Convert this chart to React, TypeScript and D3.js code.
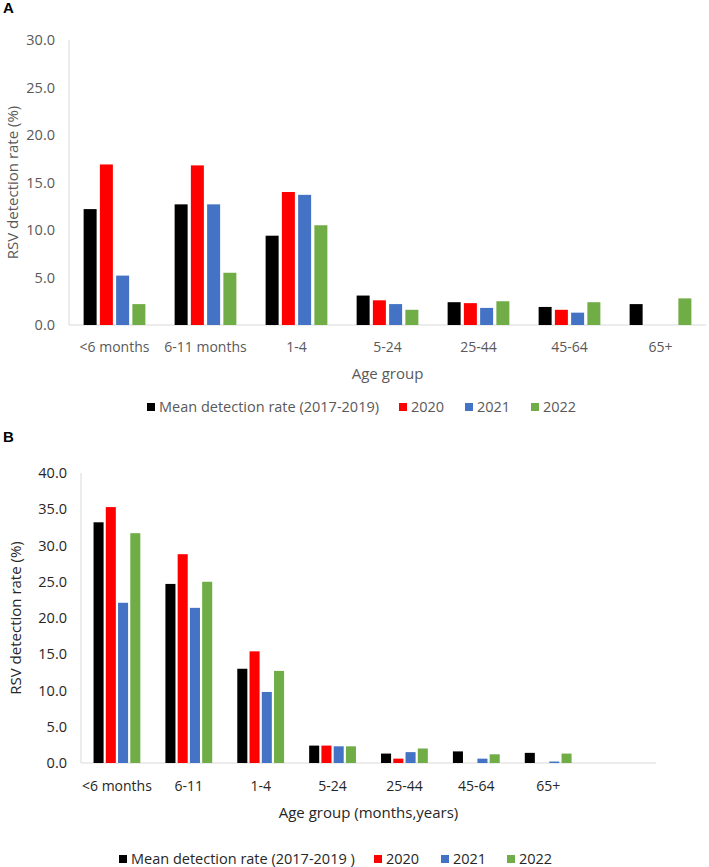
import { useEffect, useRef } from 'react';
import * as d3 from 'd3';

// Age groups and series
const seriesNames = ['Mean detection rate (2017-2019)', '2020', '2021', '2022'];
const seriesNamesB = ['Mean detection rate (2017-2019 )', '2020', '2021', '2022'];
const seriesColors = ['#000000', '#ff0000', '#4472c4', '#70ad47'];

const ageGroupsA = ['<6 months', '6-11 months', '1-4', '5-24', '25-44', '45-64', '65+'];
const ageGroupsB = ['<6 months', '6-11', '1-4', '5-24', '25-44', '45-64', '65+'];

// Panel A: detection rate (%) per age group, one array per series
const meanA = [12.2, 12.7, 9.4, 3.1, 2.4, 1.9, 2.2];
const y2020A = [16.9, 16.8, 14.0, 2.6, 2.3, 1.6, null];
const y2021A = [5.2, 12.7, 13.7, 2.2, 1.8, 1.3, null];
const y2022A = [2.2, 5.5, 10.5, 1.6, 2.5, 2.4, 2.8];

// Panel B
const meanB = [33.2, 24.7, 13.0, 2.4, 1.3, 1.6, 1.4];
const y2020B = [35.3, 28.8, 15.4, 2.4, 0.6, null, null];
const y2021B = [22.1, 21.4, 9.8, 2.3, 1.5, 0.6, 0.2];
const y2022B = [31.7, 25.0, 12.7, 2.3, 2.0, 1.2, 1.3];

const ticksA = [0, 5, 10, 15, 20, 25, 30];
const ticksB = [0, 5, 10, 15, 20, 25, 30, 35, 40];

const FONT = '"Open Sans", sans-serif';

type Panel = {
  letter: string;
  letterY: number;
  groups: string[];
  slots: number;
  values: (number | null)[][];
  names: string[];
  ticks: number[];
  left: number;
  right: number;
  top: number;
  bottom: number;
  inner: number;
  innerPad: number;
  textColor: string;
  yTitle: string;
  yTitleX: number;
  xTitle: string;
  xTitleY: number;
  labelY: number;
  tickX: number;
  legendY: number;
  legendX: number[];
};

const panels: Panel[] = [
  {
    letter: 'A', letterY: 13,
    groups: ageGroupsA, slots: ageGroupsA.length,
    values: [meanA, y2020A, y2021A, y2022A], names: seriesNames,
    ticks: ticksA, left: 69, right: 706, top: 40, bottom: 325,
    inner: 65, innerPad: 0.2, textColor: '#595959',
    yTitle: 'RSV detection rate (%)', yTitleX: 13,
    xTitle: 'Age group', xTitleY: 374, labelY: 347, tickX: 55,
    legendY: 407, legendX: [147, 399, 465, 531],
  },
  {
    letter: 'B', letterY: 442,
    groups: ageGroupsB, slots: ageGroupsB.length + 1,
    values: [meanB, y2020B, y2021B, y2022B], names: seriesNamesB,
    ticks: ticksB, left: 81, right: 656, top: 473, bottom: 763,
    inner: 49, innerPad: 0.18, textColor: '#262626',
    yTitle: 'RSV detection rate  (%)', yTitleX: 16,
    xTitle: 'Age group (months,years)', xTitleY: 813, labelY: 786, tickX: 67,
    legendY: 859, legendX: [119, 374, 441, 507],
  },
];

const App = () => {
  const svgRef = useRef<SVGSVGElement>(null);

  useEffect(() => {
    if (!svgRef.current) return;
    const svg = d3.select(svgRef.current);
    svg.selectAll('*').remove();

    panels.forEach((p) => {
      const g = svg.append('g');

      // Slot indices (panel B keeps one empty slot at the right)
      const x = d3.scaleBand<number>()
        .domain(d3.range(p.slots))
        .range([p.left, p.right])
        .padding(0);

      const xi = d3.scaleBand<number>()
        .domain(d3.range(p.names.length))
        .range([-p.inner / 2, p.inner / 2])
        .paddingInner(p.innerPad)
        .paddingOuter(p.innerPad / 2);

      const y = d3.scaleLinear()
        .domain([0, d3.max(p.ticks) as number])
        .range([p.bottom, p.top]);

      // Panel letter
      g.append('text')
        .attr('x', 3)
        .attr('y', p.letterY)
        .style('font-family', '"Liberation Sans", Arial, sans-serif')
        .style('font-weight', 'bold')
        .style('font-size', '15px')
        .text(p.letter);

      // Axis lines
      g.append('line')
        .attr('x1', p.left).attr('x2', p.left)
        .attr('y1', p.top).attr('y2', p.bottom)
        .attr('stroke', '#d9d9d9');
      g.append('line')
        .attr('x1', p.left).attr('x2', p.right)
        .attr('y1', p.bottom).attr('y2', p.bottom)
        .attr('stroke', '#d9d9d9');

      // Y tick labels
      g.selectAll('.ytick')
        .data(p.ticks)
        .enter()
        .append('text')
        .attr('x', p.tickX)
        .attr('y', d => y(d))
        .attr('dy', '0.35em')
        .attr('text-anchor', 'end')
        .style('font-family', FONT)
        .style('font-size', '14.5px')
        .style('fill', p.textColor)
        .text(d => d3.format('.1f')(d));

      // Bars
      p.values.forEach((vals, si) => {
        g.selectAll(`.bar${si}`)
          .data(vals.map((v, i) => ({ v, i })).filter(d => d.v !== null))
          .enter()
          .append('rect')
          .attr('x', d => (x(d.i) as number) + x.bandwidth() / 2 + (xi(si) as number))
          .attr('width', xi.bandwidth())
          .attr('y', d => y(d.v as number))
          .attr('height', d => p.bottom - y(d.v as number))
          .attr('fill', seriesColors[si]);
      });

      // Category labels
      g.selectAll('.xlabel')
        .data(p.groups)
        .enter()
        .append('text')
        .attr('x', (d, i) => (x(i) as number) + x.bandwidth() / 2)
        .attr('y', p.labelY)
        .attr('dy', '0.35em')
        .attr('text-anchor', 'middle')
        .style('font-family', FONT)
        .style('font-size', '14px')
        .style('fill', p.textColor)
        .text(d => d);

      // Axis titles
      g.append('text')
        .attr('x', (p.left + p.right) / 2)
        .attr('y', p.xTitleY)
        .attr('dy', '0.35em')
        .attr('text-anchor', 'middle')
        .style('font-family', FONT)
        .style('font-size', '15px')
        .style('fill', p.textColor)
        .text(p.xTitle);

      g.append('text')
        .attr('transform', `translate(${p.yTitleX}, ${(p.top + p.bottom) / 2}) rotate(-90)`)
        .attr('dy', '0.35em')
        .attr('text-anchor', 'middle')
        .style('font-family', FONT)
        .style('font-size', '15px')
        .style('fill', p.textColor)
        .text(p.yTitle);

      // Legend
      const legend = g.selectAll('.legend')
        .data(p.names)
        .enter()
        .append('g')
        .attr('transform', (d, i) => `translate(${p.legendX[i]}, ${p.legendY})`);

      legend.append('rect')
        .attr('x', 0)
        .attr('y', -4)
        .attr('width', 8)
        .attr('height', 8)
        .attr('fill', (d, i) => seriesColors[i]);

      legend.append('text')
        .attr('x', 12)
        .attr('dy', '0.35em')
        .style('font-family', FONT)
        .style('font-size', '14.5px')
        .style('fill', p.textColor)
        .text(d => d);
    });
  }, []);

  return (
    <svg
      ref={svgRef}
      width={709}
      height={867}
      style={{ position: 'absolute', left: 0, top: 0, background: '#fff' }}
    />
  );
};

export default App;
